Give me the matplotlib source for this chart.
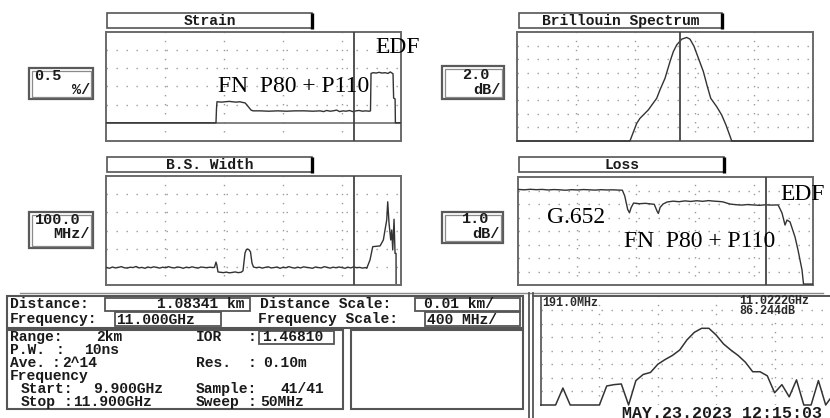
import matplotlib
matplotlib.use("Agg")
import matplotlib.pyplot as plt
from matplotlib.patches import Rectangle
import numpy as np

W, H = 830, 418

# ------------------------------------------------------------------ data
dist_start_m = 1041.41
dist_stop_m = 1091.41
dist_div_m = 10.0
cursor_dist_m = 1083.41
freq_start_ghz = 9.9
freq_stop_ghz = 11.9
freq_div_ghz = 0.4
cursor_freq_ghz = 11.0

# Strain (%), 0.5 %/div
strain_trace = [
    (1041.41, 0.00), (1060.05, 0.00), (1060.14, 0.40), (1060.22, 0.58),
    (1061.0, 0.57), (1061.6, 0.58), (1062.3, 0.59), (1062.8, 0.58),
    (1063.5, 0.57), (1064.1, 0.58), (1064.6, 0.56), (1064.97, 0.55),
    (1065.3, 0.49), (1065.7, 0.41), (1066.0, 0.35), (1066.33, 0.33),
    (1067.5, 0.33), (1069.0, 0.32), (1070.5, 0.33), (1072.0, 0.32),
    (1073.5, 0.33), (1075.0, 0.33), (1076.5, 0.32), (1077.7, 0.33),
    (1078.3, 0.31), (1078.8, 0.34), (1079.4, 0.32), (1079.9, 0.33),
    (1080.5, 0.35), (1081.0, 0.31), (1081.6, 0.33), (1082.1, 0.32),
    (1082.7, 0.34), (1083.2, 0.31), (1083.8, 0.33), (1084.3, 0.34),
    (1084.9, 0.32), (1085.4, 0.33), (1086.0, 0.32), (1086.24, 0.33),
    (1086.33, 1.36), (1086.7, 1.38), (1087.2, 1.37), (1087.7, 1.39),
    (1088.2, 1.37), (1088.7, 1.38), (1089.2, 1.36), (1089.6, 1.40),
    (1090.06, 1.35), (1090.16, 0.68), (1090.41, 0.66), (1090.46, 0.00),
    (1091.41, 0.00),
]

# Brillouin spectrum width (MHz), 100 MHz/div
bsw_seg_a_start_m = 1041.5
bsw_seg_a = [96, 92, 99, 94, 97, 101, 95, 93, 98, 96, 102, 94, 97, 92, 99,
             95, 100, 97, 93, 98, 95, 101, 96, 94, 99, 97, 92, 98, 95, 100,
             96, 93, 99, 97, 95, 98, 96]
bsw_feat_1 = [(1059.8, 97), (1060.05, 126), (1060.2, 110), (1060.39, 72)]
bsw_seg_b_start_m = 1060.8
bsw_seg_b = [70, 68, 71, 67, 69, 72, 68, 70]
bsw_feat_2 = [(1064.63, 78), (1064.97, 176), (1065.2, 195), (1065.41, 198),
              (1065.65, 194), (1065.9, 182), (1066.16, 120), (1066.41, 99)]
bsw_seg_c_start_m = 1066.9
bsw_seg_c = [95, 98, 93, 97, 100, 94, 96, 99, 92, 97, 95, 101, 96, 93, 98,
             94, 100, 97, 95, 92, 99, 96, 94, 101, 97, 93, 98, 95, 99, 96,
             92, 98, 94, 100, 95, 97, 93, 96]
bsw_feat_3 = [(1085.6, 92), (1086.16, 138), (1086.62, 211), (1087.2, 213),
              (1087.86, 215), (1088.42, 248), (1088.7, 303), (1088.99, 358),
              (1089.16, 458), (1089.38, 341), (1089.67, 248), (1089.84, 303),
              (1090.01, 193), (1090.23, 362), (1090.4, 174), (1090.57, 174),
              (1090.58, 9)]
bsw_step_m = 0.5

# Loss (dB), 1 dB/div
loss_trace = [
    (1041.5, 7.08), (1042.5, 7.05), (1043.5, 7.09), (1044.5, 7.06),
    (1045.5, 7.08), (1046.5, 7.04), (1047.5, 7.07), (1048.5, 7.05),
    (1049.5, 7.02), (1050.5, 7.06), (1051.5, 7.04), (1052.5, 7.07),
    (1053.5, 7.05), (1054.5, 7.03), (1055.5, 7.06), (1056.5, 7.04),
    (1057.5, 7.05), (1058.5, 7.03), (1059.1, 7.02), (1059.5, 6.60),
    (1060.0, 5.60), (1060.3, 5.35), (1060.6, 5.75), (1061.0, 6.07),
    (1062.0, 6.02), (1063.0, 6.05), (1064.0, 6.00), (1064.5, 5.98),
    (1065.0, 5.45), (1065.2, 5.30), (1065.5, 5.75), (1066.0, 6.00),
    (1066.7, 6.15), (1067.7, 6.21), (1068.7, 6.17), (1069.7, 6.23),
    (1070.7, 6.19), (1071.7, 6.24), (1072.7, 6.20), (1073.7, 6.25),
    (1074.7, 6.21), (1075.7, 6.18), (1076.2, 6.15), (1077.3, 6.00),
    (1078.3, 5.95), (1079.3, 5.92), (1080.3, 5.96), (1081.3, 5.93),
    (1082.3, 5.90), (1083.3, 5.94), (1084.3, 5.92), (1085.5, 5.93),
    (1086.16, 5.33), (1086.67, 4.44), (1087.0, 4.81), (1087.52, 4.67),
    (1088.36, 3.56), (1088.87, 2.59), (1089.55, 1.11), (1089.8, 0.07),
    (1091.3, 0.07),
]

# Brillouin spectrum at cursor (dB), 2 dB/div
spec_freq_ghz = [9.9, 10.663, 10.709, 10.731, 10.787, 10.844, 10.866, 10.9,
                 10.934, 10.956, 10.979, 11.013, 11.047, 11.069, 11.096,
                 11.125, 11.159, 11.186, 11.209, 11.249, 11.283, 11.312,
                 11.351, 11.9]
spec_db = [0, 0, 2.6, 3.33, 4.56, 6.27, 7.5, 9.2, 11.67, 13.1, 14.1, 14.95,
           15.2, 14.95, 13.9, 12.2, 10.2, 8.0, 6.27, 5.05, 3.82, 2.35, 0, 0]

# Sampled spectrum (41 samples, 50 MHz sweep)
sample_step_ghz = 0.05
sample_db = [0, 0, 0, 2.5, 0, 0, 0, 0, 0, 2.8, 3.0, 3.1, 0, 3.6, 4.5, 4.8,
             6.0, 6.7, 7.3, 8.1, 9.6, 10.7, 11.3, 11.3, 10.3, 9.0, 8.1, 7.3,
             6.3, 4.9, 4.9, 4.3, 1.8, 3.0, 1.2, 3.7, 0, 0, 3.6, 0, 1.5]

# ------------------------------------------------------------------ helpers
TRACE = "#333333"
GRIDC = "#9a9a9a"
BORDER = "#6a6a6a"
TXT = "#1a1a1a"
MONO = "Liberation Mono"
SERIF = "Liberation Serif"

fig = plt.figure(figsize=(W / 100, H / 100), dpi=100)
fig.patch.set_facecolor("white")


def add_panel(x0, y0, x1, y1):
    ax = fig.add_axes([x0 / W, 1 - y1 / H, (x1 - x0) / W, (y1 - y0) / H])
    ax.set_xticks([])
    ax.set_yticks([])
    for s in ax.spines.values():
        s.set_color(BORDER)
        s.set_linewidth(1.4)
    return ax


def dotted_grid(ax, xs, ys):
    for v in xs:
        ax.axvline(v, color=GRIDC, lw=1.0, ls=(0, (1, 5.5)), zorder=1)
    for v in ys:
        ax.axhline(v, color=GRIDC, lw=1.0, ls=(0, (1, 6.2)), zorder=1)


dist_grid = np.arange(dist_start_m + dist_div_m, dist_stop_m - 1, dist_div_m)
freq_grid = np.arange(freq_start_ghz + freq_div_ghz, freq_stop_ghz - 0.01, freq_div_ghz)

# ---- Strain
ax = add_panel(106, 32, 401, 141)
ax.set_xlim(dist_start_m, dist_stop_m)
ax.set_ylim(-0.5, 2.5)
dotted_grid(ax, dist_grid, [0.5, 1.0, 1.5, 2.0])
ax.axhline(0, color="#777777", lw=1.3, zorder=2)
d, v = zip(*strain_trace)
ax.plot(d, v, color=TRACE, lw=1.0, zorder=3)
ax.axvline(cursor_dist_m, color="#444444", lw=1.3, zorder=4)

# ---- Brillouin spectrum
ax = add_panel(517, 32, 813, 141)
ax.set_xlim(freq_start_ghz, freq_stop_ghz)
ax.set_ylim(0, 16)
dotted_grid(ax, freq_grid, np.arange(2, 16, 2))
ax.plot(spec_freq_ghz, spec_db, color=TRACE, lw=1.0, zorder=3, clip_on=False)
ax.axvline(cursor_freq_ghz, color="#444444", lw=1.3, zorder=4)

# ---- B.S. Width
ax = add_panel(106, 176, 401, 285)
ax.set_xlim(dist_start_m, dist_stop_m)
ax.set_ylim(0, 600)
dotted_grid(ax, dist_grid, [100, 200, 300, 400, 500])
xa = bsw_seg_a_start_m + bsw_step_m * np.arange(len(bsw_seg_a))
xb = bsw_seg_b_start_m + bsw_step_m * np.arange(len(bsw_seg_b))
xc = bsw_seg_c_start_m + bsw_step_m * np.arange(len(bsw_seg_c))
bx = (list(xa) + [p[0] for p in bsw_feat_1] + list(xb) + [p[0] for p in bsw_feat_2]
      + list(xc) + [p[0] for p in bsw_feat_3])
by = (list(bsw_seg_a) + [p[1] for p in bsw_feat_1] + list(bsw_seg_b)
      + [p[1] for p in bsw_feat_2] + list(bsw_seg_c) + [p[1] for p in bsw_feat_3])
ax.plot(bx, by, color=TRACE, lw=1.0, zorder=3)
ax.axvline(cursor_dist_m, color="#444444", lw=1.3, zorder=4)

# ---- Loss
ax = add_panel(518, 177, 813, 285)
ax.set_xlim(dist_start_m, dist_stop_m)
ax.set_ylim(0, 8)
dotted_grid(ax, dist_grid, np.arange(1, 8))
d, v = zip(*loss_trace)
ax.plot(d, v, color=TRACE, lw=1.0, zorder=3)
ax.axvline(cursor_dist_m, color="#444444", lw=1.3, zorder=4)

# ---- bottom sampled spectrum
ax = add_panel(541, 296.4, 833, 405)
ax.set_xlim(freq_start_ghz, freq_stop_ghz)
ax.set_ylim(0, 16)
ax.spines["bottom"].set_visible(False)
ax.spines["top"].set_color("#555555")
dotted_grid(ax, freq_grid, np.arange(2, 16, 2))
sf = freq_start_ghz + sample_step_ghz * np.arange(len(sample_db))
ax.plot(sf, sample_db, color=TRACE, lw=1.1, zorder=3, clip_on=False)

# ------------------------------------------------------------------ overlay
ov = fig.add_axes([0, 0, 1, 1], zorder=20)
ov.set_xlim(0, W)
ov.set_ylim(H, 0)
ov.axis("off")
ov.patch.set_alpha(0)


def rect(x0, y0, x1, y1, ec=BORDER, lw=1.2, fc="none"):
    ov.add_patch(Rectangle((x0, y0), x1 - x0, y1 - y0, fill=(fc != "none"),
                           facecolor=fc, edgecolor=ec, lw=lw))


def title_box(x0, y0, x1, y1, s):
    rect(x0, y0, x1, y1, ec="#555555", lw=1.2)
    ov.plot([x1, x1], [y0 - 0.5, y1 + 0.5], color="black", lw=2.4,
            solid_capstyle="butt")
    ov.text((x0 + x1) / 2, (y0 + y1) / 2 + 0.5, s, family=MONO,
            fontweight="bold", fontsize=10.5, ha="center", va="center", color=TXT)


def scale_box(x0, y0, x1, y1, top, top_x, top_ha, bottom, ty, by_):
    rect(x0, y0, x1, y1, ec="#5a5a5a", lw=1.6)
    rect(x0 + 2.5, y0 + 2.5, x1 - 2.5, y1 - 2.5, ec="#8a8a8a", lw=0.9)
    ov.text(top_x, ty, top, family=MONO, fontweight="bold", fontsize=11,
            ha=top_ha, va="center", color=TXT)
    ov.text(x1 - 3, by_, bottom, family=MONO, fontweight="bold", fontsize=11,
            ha="right", va="center", color=TXT)


title_box(107, 13, 312, 28, "Strain")
title_box(519, 13, 722, 28, "Brillouin Spectrum")
title_box(107, 157, 312, 172, "B.S. Width")
title_box(519, 157, 724, 172, "Loss")

scale_box(29, 68, 93, 99, "0.5", 34, "left", "%/", 76, 90.5)
scale_box(442, 66, 504, 99, "2.0", 489, "right", "dB/", 75, 89.5)
scale_box(29, 212, 93, 248, "100.0", 35, "left", "MHz/", 220, 234.5)
scale_box(442, 212, 503, 243, "1.0", 489, "right", "dB/", 219, 233.5)

# annotations (serif)
ann = dict(family=SERIF, fontsize=17, color="black", va="baseline", ha="left")
ov.text(375, 53, "EDF", **ann)
ov.text(218, 92, "FN  P80 + P110", **ann)
ov.text(547, 223, "G.652", **ann)
ov.text(624, 247, "FN  P80 + P110", **ann)
ov.text(780, 200, "EDF", **ann)

# ---- bottom info area
ov.plot([20, 823], [293, 293], color="#8a8a8a", lw=1.0)
rect(7.4, 296.4, 523, 327.5, ec="#555555", lw=1.5)
rect(104.6, 297.5, 249.7, 311, ec="#555555", lw=1.3)
rect(415, 297.5, 520, 311, ec="#555555", lw=1.3)
rect(114.7, 312.3, 221, 325.8, ec="#555555", lw=1.3)
rect(424.6, 312.3, 520, 325.8, ec="#555555", lw=1.3)
rect(7.4, 330, 343, 408.5, ec="#555555", lw=1.5)
rect(351, 330, 523, 408.5, ec="#555555", lw=1.5)
rect(259, 330.5, 334, 343.5, ec="#555555", lw=1.3)
ov.plot([529, 529], [293, 418], color="#555555", lw=1.3)
ov.plot([533, 533], [293, 418], color="#555555", lw=1.3)
ov.plot([533, 541], [296.4, 296.4], color="#555555", lw=1.3)

info = dict(family=MONO, fontweight="bold", fontsize=10.5, va="center",
            color=TXT)
ov.text(9.5, 304, "Distance:", **info)
ov.text(244, 304, "1.08341 km", ha="right", **info)
ov.text(260, 304, "Distance Scale:", **info)
ov.text(423.6, 304, "0.01 km/", **info)
ov.text(9.5, 319.5, "Frequency:", **info)
ov.text(116.4, 319.5, "11.000GHz", **info)
ov.text(258, 319.5, "Frequency Scale:", **info)
ov.text(427, 319.5, "400 MHz/", **info)

rows = [337, 350, 363, 376, 389, 402]
ov.text(9.5, rows[0], "Range:", **info)
ov.text(96, rows[0], "2km", **info)
ov.text(196, rows[0], "IOR", **info)
ov.text(248, rows[0], ":", **info)
ov.text(261.6, rows[0], "1.46810", **info)
ov.text(9.5, rows[1], "P.W.", **info)
ov.text(55.7, rows[1], ":", **info)
ov.text(84, rows[1], "10ns", **info)
ov.text(9.5, rows[2], "Ave.", **info)
ov.text(52, rows[2], ":", **info)
ov.text(62.4, rows[2], "2^14", **info)
ov.text(196, rows[2], "Res.", **info)
ov.text(248, rows[2], ":", **info)
ov.text(263, rows[2], "0.10m", **info)
ov.text(9.5, rows[3], "Frequency", **info)
ov.text(21, rows[4], "Start:", **info)
ov.text(93, rows[4], "9.900GHz", **info)
ov.text(196, rows[4], "Sample:", **info)
ov.text(280, rows[4], "41/41", **info)
ov.text(21, rows[5], "Stop", **info)
ov.text(64, rows[5], ":", **info)
ov.text(72.6, rows[5], "11.900GHz", **info)
ov.text(196, rows[5], "Sweep", **info)
ov.text(248, rows[5], ":", **info)
ov.text(260, rows[5], "50MHz", **info)

small = dict(family=MONO, fontweight="bold", fontsize=8.5, va="center",
             color="#2a2a2a")
ov.text(542, 303, "191.0MHz", **small)
ov.text(739, 301, "11.0222GHz", **small)
ov.text(739, 311.5, "86.244dB", **small)
ov.text(622, 413, "MAY.23.2023 12:15:03", family=MONO, fontweight="bold",
        fontsize=12, va="center", color=TXT)

fig.savefig("out.png", dpi=100, facecolor="white")
